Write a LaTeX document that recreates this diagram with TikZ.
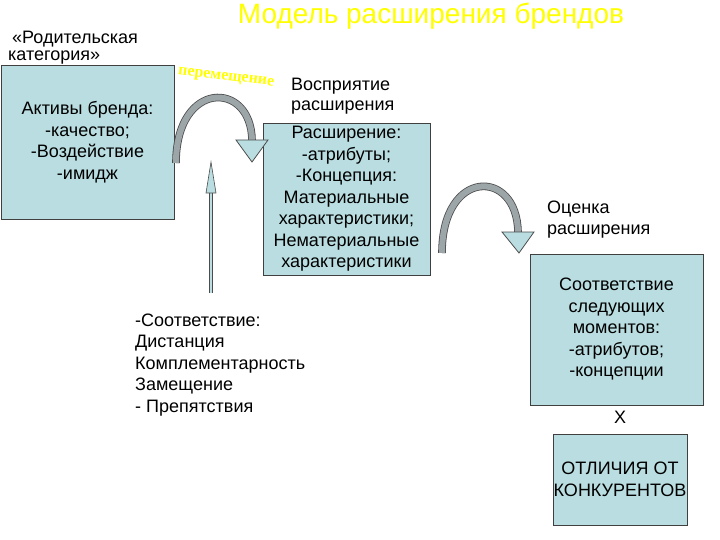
\documentclass[tikz,border=0pt]{standalone}
\usepackage{fontspec}
\setmainfont{Liberation Sans}
\newfontfamily\movefont{Liberation Serif}
\usetikzlibrary{calc,positioning}
\definecolor{BoxBlue}{HTML}{B9DDE0}
\definecolor{ArcGrey}{HTML}{9CA6A8}
\definecolor{TitleYellow}{HTML}{FFFF00}
\tikzset{
  bluebox/.style={
    draw=black!75,
    fill=BoxBlue,
    align=center,
    inner sep=0pt,
    font=\fontsize{18}{21.5}\selectfont
  },
  plaintext/.style={
    align=left,
    inner sep=0pt,
    font=\fontsize{18}{21.5}\selectfont
  },
  jumpshaft/.style={draw=black!70,line width=0.8pt,double=ArcGrey,double distance=6pt},
  jumphead/.style={draw=black!70,line width=0.8pt,fill=BoxBlue,line join=miter}
}

\begin{document}
\begin{tikzpicture}[x=1pt,y=-1pt]
    \useasboundingbox (0,0) rectangle (720,540);
    % title and free texts (base = baseline of the last line)
    \node[font=\fontsize{28}{32}\selectfont,text=TitleYellow,anchor=base,inner sep=0pt] (title) at (431,24) {Модель расширения брендов};
    \node[plaintext,anchor=base west,font=\fontsize{18}{17}\selectfont] (parent) at (8,61) {\hspace*{4pt}«Родительская\\категория»};
    \node[plaintext,anchor=base west,font=\fontsize{18}{19.5}\selectfont] (percept) at (291,110.5) {Восприятие\\расширения};
    \node[plaintext,anchor=base west,font=\fontsize{18}{21}\selectfont] (rating) at (547,235) {Оценка\\расширения};
    \node[plaintext,anchor=base west] (fitlist) at (135,412) {-Соответствие:\\Дистанция\\Комплементарность\\Замещение\\- Препятствия};
    \node[plaintext,anchor=base] (times) at (620,423) {X};
    \node[font=\movefont\bfseries\fontsize{16}{16}\selectfont,text=TitleYellow,rotate=-7,inner sep=0pt] (move) at (226,78) {перемещение};
    % boxes
    \node[bluebox,minimum width=173pt,minimum height=154pt] (assets) at (87.5,142) {Активы бренда:\\-качество;\\-Воздействие\\-имидж};
    \node[bluebox,minimum width=167pt,minimum height=152pt] (ext) at (346.5,199) {Расширение:\\-атрибуты;\\-Концепция:\\Материальные\\характеристики;\\Нематериальные\\характеристики};
    \node[bluebox,minimum width=173pt,minimum height=151pt] (fit) at (616.5,329.5) {Соответствие\\следующих\\моментов:\\-атрибутов;\\-концепции};
    \node[bluebox,minimum width=134pt,minimum height=91pt] (diff) at (620,479.5) {};
    \node[plaintext,align=center] (difftext) at (diff) {ОТЛИЧИЯ ОТ\\КОНКУРЕНТОВ};
    % curved arrows
    \coordinate (jumpAfrom) at (176,163);
    \coordinate (jumpAto) at (252,140);
    \draw[jumpshaft] (jumpAfrom) .. controls (176,80) and (251,80) .. (jumpAto);
    \draw[jumphead] ($(jumpAto)+(-16,0)$) -- ($(jumpAto)+(16,0)$) -- ($(jumpAto)+(0,22)$) -- cycle;
    \coordinate (jumpBfrom) at (442,253);
    \coordinate (jumpBto) at (518,232);
    \draw[jumpshaft] (jumpBfrom) .. controls (442,168) and (517,168) .. (jumpBto);
    \draw[jumphead] ($(jumpBto)+(-16,0)$) -- ($(jumpBto)+(16,0)$) -- ($(jumpBto)+(1,21)$) -- cycle;
    % thin arrow
    \coordinate (pushfrom) at (211,293);
    \coordinate (pushto) at (211,162);
    \draw[draw=black!70,line width=0.6pt,double=BoxBlue,double distance=2.2pt] (pushfrom) -- ($(pushto)+(0,31)$);
    \draw[draw=black!70,line width=0.6pt,fill=BoxBlue] ($(pushto)+(-5,31)$) -- ($(pushto)+(5,31)$) -- (pushto) -- cycle;
\end{tikzpicture}
\end{document}
